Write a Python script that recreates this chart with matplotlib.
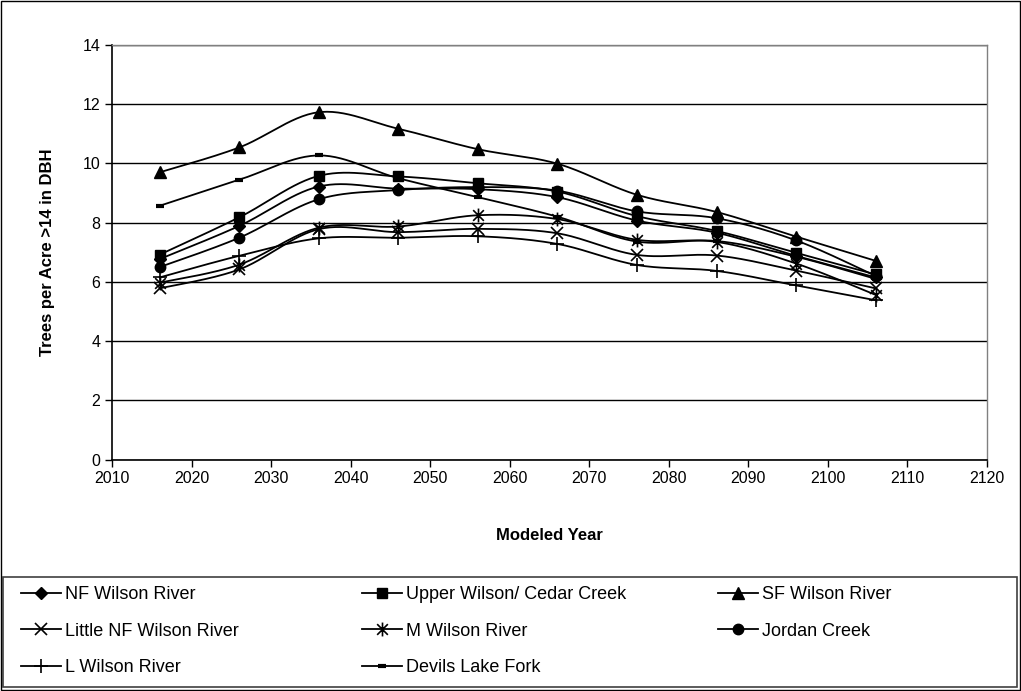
import numpy as np
import matplotlib
matplotlib.use("Agg")
import matplotlib.pyplot as plt
from matplotlib.path import Path
from matplotlib.lines import Line2D

plt.rcParams['font.family'] = ['Liberation Sans', 'DejaVu Sans']

years = [2016, 2026, 2036, 2046, 2056, 2066, 2076, 2086, 2096, 2106]

nf_wilson = [6.77, 7.89, 9.22, 9.15, 9.13, 8.86, 8.07, 7.66, 6.88, 6.15]
upper_wilson_cedar = [6.92, 8.18, 9.58, 9.56, 9.33, 9.05, 8.22, 7.72, 6.98, 6.25]
sf_wilson = [9.70, 10.54, 11.73, 11.17, 10.48, 9.99, 8.94, 8.36, 7.53, 6.71]
little_nf_wilson = [5.78, 6.42, 7.78, 7.68, 7.79, 7.64, 6.91, 6.89, 6.38, 5.78]
m_wilson = [5.97, 6.58, 7.83, 7.87, 8.25, 8.12, 7.42, 7.35, 6.62, 5.56]
jordan_creek = [6.50, 7.49, 8.79, 9.10, 9.20, 9.08, 8.38, 8.15, 7.40, 6.20]
l_wilson = [6.15, 6.88, 7.47, 7.49, 7.54, 7.28, 6.57, 6.37, 5.88, 5.38]
devils_lake_fork = [8.57, 9.45, 10.27, 9.50, 8.86, 8.20, 7.36, 7.38, 6.85, 6.10]

series_names = ["NF Wilson River", "Upper Wilson/ Cedar Creek", "SF Wilson River",
                "Little NF Wilson River", "M Wilson River", "Jordan Creek",
                "L Wilson River", "Devils Lake Fork"]
series_values = [nf_wilson, upper_wilson_cedar, sf_wilson, little_nf_wilson,
                 m_wilson, jordan_creek, l_wilson, devils_lake_fork]

# Excel style asterisk: an x with a vertical bar through it
star_marker = Path([(-1, -1), (1, 1), (-1, 1), (1, -1), (0, -1.3), (0, 1.3)],
                   [Path.MOVETO, Path.LINETO, Path.MOVETO, Path.LINETO,
                    Path.MOVETO, Path.LINETO])

styles = [
    dict(marker='D', ms=6.5, mfc='black', mec='black'),
    dict(marker='s', ms=7, mfc='black', mec='black'),
    dict(marker='^', ms=8.5, mfc='black', mec='black'),
    dict(marker='x', ms=8, mew=1.2, mec='black'),
    dict(marker=star_marker, ms=10, mew=1.2, mec='black'),
    dict(marker='o', ms=7.5, mfc='black', mec='black'),
    dict(marker='+', ms=10, mew=1.2, mec='black'),
    dict(marker='_', ms=6, mew=3, mec='black'),
]


def smooth_curve(xs, ys, n=30):
    """Bezier smoothing through the points, like Excel's smoothed line."""
    p = np.column_stack([xs, ys]).astype(float)
    ext = np.vstack([p[0], p, p[-1]])
    out = []
    for i in range(len(p) - 1):
        p0, p1 = ext[i + 1], ext[i + 2]
        c1 = p0 + (ext[i + 2] - ext[i]) / 6.0
        c2 = p1 - (ext[i + 3] - ext[i + 1]) / 6.0
        t = np.linspace(0, 1, n)[:, None]
        seg = ((1 - t) ** 3) * p0 + 3 * ((1 - t) ** 2) * t * c1 + 3 * (1 - t) * t ** 2 * c2 + t ** 3 * p1
        out.append(seg if i == 0 else seg[1:])
    out = np.vstack(out)
    return out[:, 0], out[:, 1]


W, H = 1021, 691
fig = plt.figure(figsize=(W / 100, H / 100), dpi=100)
ax = fig.add_axes([112 / W, 1 - 459.5 / H, 875 / W, 414.5 / H])

handles = []
for name, vals, st in zip(series_names, series_values, styles):
    sx, sy = smooth_curve(years, vals)
    ax.plot(sx, sy, color='black', lw=1.3, zorder=3)
    ax.plot(years, vals, ls='none', zorder=4, **st)
    handles.append(Line2D([0], [0], color='black', lw=1.3, label=name, **st))

ax.set_xlim(2010, 2120)
ax.set_ylim(0, 14)
ax.set_xticks(np.arange(2010, 2121, 10))
ax.set_yticks(np.arange(0, 15, 2))
ax.grid(axis='y', color='black', lw=1.0)
ax.set_axisbelow(True)
ax.tick_params(direction='out', length=5, width=1, labelsize=11.5, colors='black')
for side in ['left', 'bottom']:
    ax.spines[side].set_color('black')
    ax.spines[side].set_linewidth(1.2)
for side in ['right', 'top']:
    ax.spines[side].set_color('#808080')
    ax.spines[side].set_linewidth(1.0)

ax.set_xlabel("Modeled Year", fontsize=12, fontweight='bold', labelpad=30)
ax.set_ylabel("Trees per Acre >14 in DBH", fontsize=12, fontweight='bold', labelpad=20)

# legend box across the bottom, laid out row by row in three columns
fig.patches.append(plt.Rectangle((3 / W, 1 - 687 / H), 1014 / W, 110 / H,
                                 transform=fig.transFigure, fill=False,
                                 edgecolor='#404040', lw=1.2))
col_x = [16, 357, 713]
for c in range(3):
    col_handles = handles[c::3]
    fig.legend(handles=col_handles, loc='upper left',
               bbox_to_anchor=(col_x[c] / W, 1 - 581 / H),
               fontsize=13, frameon=False, handlelength=2.2, handletextpad=0.2,
               borderaxespad=0, labelspacing=1.07, borderpad=0.3)

# outer chart border
fig.patches.append(plt.Rectangle((0.001, 0.001), 0.998, 0.997, transform=fig.transFigure,
                                 fill=False, edgecolor='black', lw=1.0))

fig.savefig("out.png", dpi=100)
